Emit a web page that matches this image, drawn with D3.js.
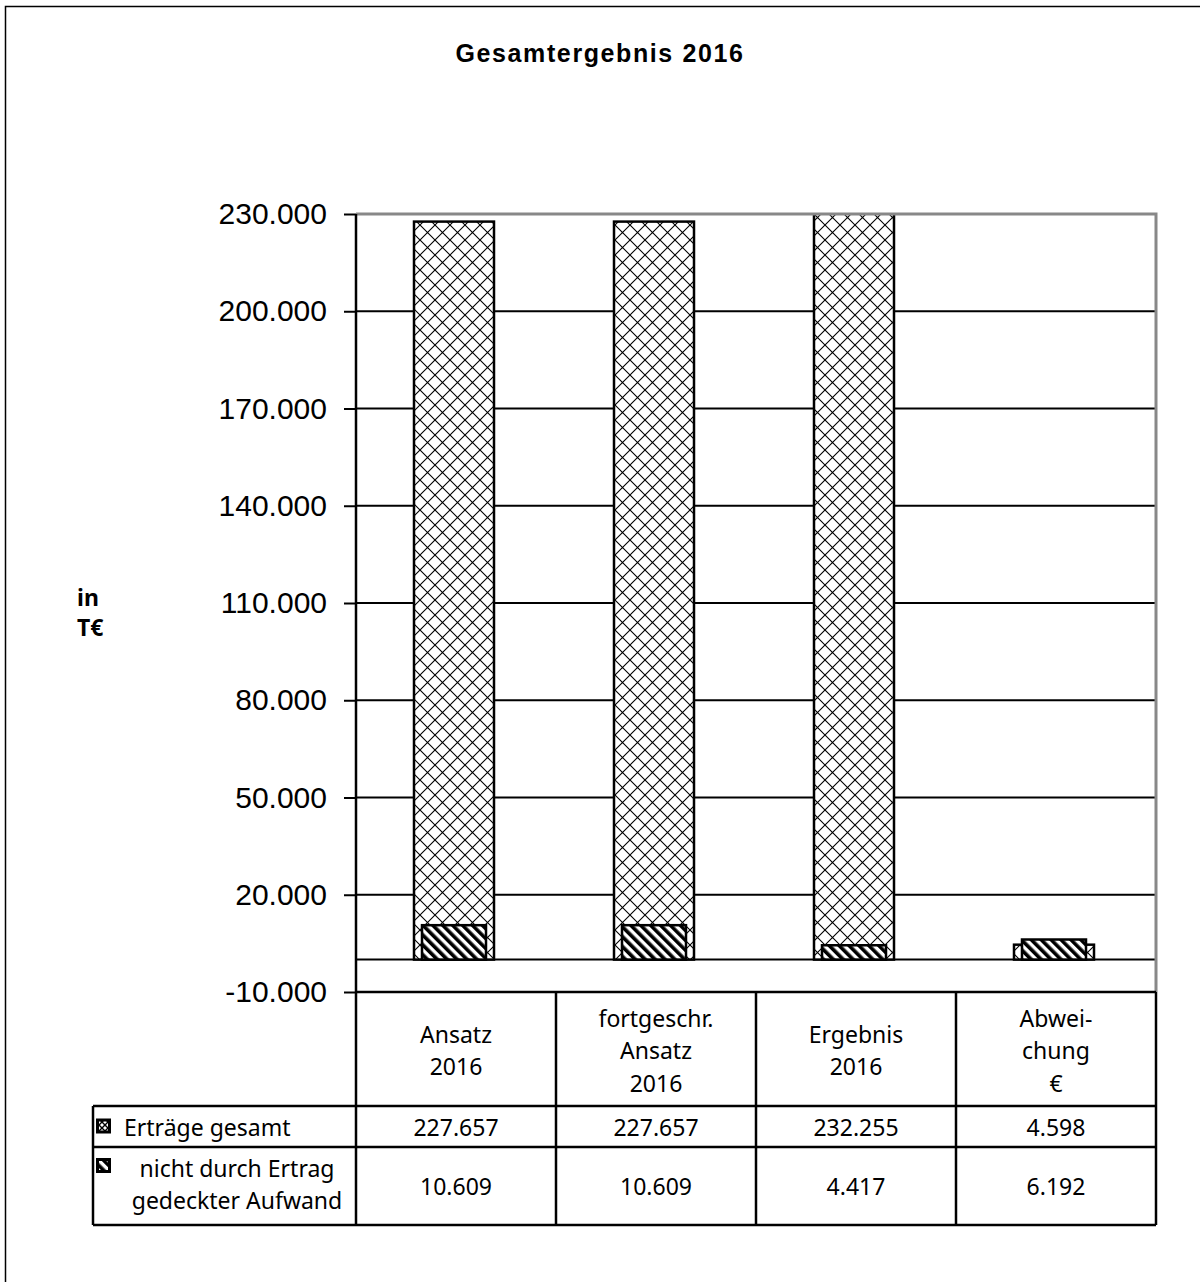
<!DOCTYPE html>
<html>
<head>
<meta charset="utf-8">
<script src="https://cdn.jsdelivr.net/npm/d3@7"></script>
<style>
  body { margin: 0; background: #fff; }
  svg { display: block; }
</style>
</head>
<body>
<div id="chart"></div>
<script>

var categories = [
  ["Ansatz", "2016"],
  ["fortgeschr.", "Ansatz", "2016"],
  ["Ergebnis", "2016"],
  ["Abwei-", "chung", "€"]
];
var ertraege = [227657, 227657, 232255, 4598];
var aufwand = [10609, 10609, 4417, 6192];
var seriesNames = [["Erträge gesamt"], ["nicht durch Ertrag", "gedeckter Aufwand"]];
var yTicks = [-10000, 20000, 50000, 80000, 110000, 140000, 170000, 200000, 230000];

var svgW = 1200;
var svgH = 1282;

// plot area
var plot = { left: 356, right: 1156, top: 214, bottom: 992 };
var table = { left: 93, headBottom: 1106, row1Bottom: 1147, row2Bottom: 1225 };

var de = d3.formatLocale({ decimal: ",", thousands: ".", grouping: [3], currency: ["", "€"], minus: "-" });
var fmt = de.format(",.0f");

var svg = d3.select("#chart")
  .append("svg")
  .attr("width", svgW)
  .attr("height", svgH);

var defs = svg.append("defs");

var tile = 15;
var cross = defs.append("pattern")
  .attr("id", "cross")
  .attr("patternUnits", "userSpaceOnUse")
  .attr("width", tile)
  .attr("height", tile);
cross.append("rect").attr("width", tile).attr("height", tile).attr("fill", "#fff");
cross.append("path")
  .attr("d", `M-1,-1L${tile + 1},${tile + 1}M${tile + 1},-1L-1,${tile + 1}`)
  .attr("stroke", "#000")
  .attr("stroke-width", 1.1);

var hatch = defs.append("pattern")
  .attr("id", "hatch")
  .attr("patternUnits", "userSpaceOnUse")
  .attr("width", 7)
  .attr("height", 7)
  .attr("patternTransform", "rotate(-45)");
hatch.append("rect").attr("width", 7).attr("height", 7).attr("fill", "#fff");
hatch.append("rect").attr("width", 3.6).attr("height", 7).attr("fill", "#000");

// tiny versions for the legend keys
var crossKey = defs.append("pattern")
  .attr("id", "crossKey")
  .attr("patternUnits", "userSpaceOnUse")
  .attr("width", 6)
  .attr("height", 6);
crossKey.append("rect").attr("width", 6).attr("height", 6).attr("fill", "#fff");
crossKey.append("path").attr("d", "M0,0L6,6M6,0L0,6").attr("stroke", "#000").attr("stroke-width", 1.4);

defs.append("clipPath")
  .attr("id", "plotClip")
  .append("rect")
  .attr("x", plot.left)
  .attr("y", plot.top)
  .attr("width", plot.right - plot.left)
  .attr("height", plot.bottom - plot.top);

// outer frame
svg.append("rect")
  .attr("x", 5.5)
  .attr("y", 6.5)
  .attr("width", 1250)
  .attr("height", 1350)
  .attr("fill", "none")
  .attr("stroke", "#000")
  .attr("stroke-width", 1.5);

svg.append("text")
  .attr("x", 600)
  .attr("y", 62)
  .attr("text-anchor", "middle")
  .attr("font-family", "'Liberation Sans', Arial, sans-serif")
  .attr("font-weight", "bold")
  .attr("font-size", 25)
  .attr("letter-spacing", 1.6)
  .text("Gesamtergebnis 2016");

var yScale = d3.scaleLinear()
  .domain([-10000, 230000])
  .range([plot.bottom, plot.top]);

var xWide = d3.scaleBand()
  .domain(d3.range(categories.length))
  .range([plot.left - 2, plot.right - 2])
  .paddingInner(0.6)
  .paddingOuter(0.3);

var xNarrow = d3.scaleBand()
  .domain(d3.range(categories.length))
  .range([plot.left - 2, plot.right - 2])
  .paddingInner(0.68)
  .paddingOuter(0.34);

var xCol = d3.scaleBand()
  .domain(d3.range(categories.length))
  .range([plot.left, plot.right]);

// gridlines
svg.append("g")
  .selectAll("line")
  .data(yTicks.filter(d => d > -10000 && d < 230000).concat([0]))
  .enter()
  .append("line")
  .attr("x1", plot.left)
  .attr("x2", plot.right)
  .attr("y1", d => yScale(d))
  .attr("y2", d => yScale(d))
  .attr("stroke", "#000")
  .attr("stroke-width", 2);

var bars = svg.append("g").attr("clip-path", "url(#plotClip)");

bars.selectAll(".ertrag")
  .data(ertraege)
  .enter()
  .append("rect")
  .attr("class", "ertrag")
  .attr("x", (d, i) => xWide(i))
  .attr("width", xWide.bandwidth())
  .attr("y", d => yScale(d))
  .attr("height", d => yScale(0) - yScale(d))
  .attr("fill", "url(#cross)")
  .attr("stroke", "#000")
  .attr("stroke-width", 2.5);

bars.selectAll(".aufwand")
  .data(aufwand)
  .enter()
  .append("rect")
  .attr("class", "aufwand")
  .attr("x", (d, i) => xNarrow(i))
  .attr("width", xNarrow.bandwidth())
  .attr("y", d => yScale(d))
  .attr("height", d => yScale(0) - yScale(d))
  .attr("fill", "url(#hatch)")
  .attr("stroke", "#000")
  .attr("stroke-width", 2.5);

// plot border top/right in grey
svg.append("path")
  .attr("d", `M${plot.left},${plot.top}H${plot.right}V${plot.bottom}`)
  .attr("fill", "none")
  .attr("stroke", "#888")
  .attr("stroke-width", 3);

// y axis
var leftAxis = d3.axisLeft(yScale)
  .tickValues(yTicks)
  .tickFormat(fmt)
  .tickSize(12)
  .tickPadding(17);

var yAxis = svg.append("g")
  .attr("transform", `translate(${plot.left}, 0)`)
  .call(leftAxis);

yAxis.select(".domain").remove();
yAxis.selectAll(".tick line").attr("stroke", "#000").attr("stroke-width", 2);
yAxis.selectAll(".tick text")
  .attr("font-family", "'Liberation Sans', Arial, sans-serif")
  .attr("font-size", 30)
  .attr("fill", "#000");

svg.append("text")
  .attr("font-family", "'Noto Sans', sans-serif")
  .attr("font-weight", "bold")
  .attr("font-size", 23)
  .selectAll("tspan")
  .data(["in", "T€"])
  .enter()
  .append("tspan")
  .attr("x", 77)
  .attr("y", (d, i) => 606 + i * 30)
  .text(d => d);

// data table
var tbl = svg.append("g")
  .attr("stroke", "#000")
  .attr("stroke-width", 2.5);

tbl.append("line")
  .attr("x1", plot.left).attr("x2", plot.right)
  .attr("y1", plot.bottom).attr("y2", plot.bottom);
[table.headBottom, table.row1Bottom, table.row2Bottom].forEach(y => {
  tbl.append("line")
    .attr("x1", table.left).attr("x2", plot.right)
    .attr("y1", y).attr("y2", y);
});
tbl.append("line")
  .attr("x1", table.left).attr("x2", table.left)
  .attr("y1", table.headBottom).attr("y2", table.row2Bottom);
tbl.append("line")
  .attr("x1", plot.left).attr("x2", plot.left)
  .attr("y1", plot.top).attr("y2", table.row2Bottom);
d3.range(1, categories.length + 1).forEach(i => {
  var x = i < categories.length ? xCol(i) : plot.right;
  tbl.append("line")
    .attr("x1", x).attr("x2", x)
    .attr("y1", plot.bottom).attr("y2", table.row2Bottom);
});

var tableFont = "'Noto Sans', 'Open Sans', sans-serif";
var lineH = 32.5;

function multiLine(g, lines, cx, cy) {
  var t = g.append("text")
    .attr("text-anchor", "middle")
    .attr("dominant-baseline", "central")
    .attr("font-family", tableFont)
    .attr("font-size", 23)
    .attr("fill", "#000");
  lines.forEach((l, k) => {
    t.append("tspan")
      .attr("x", cx)
      .attr("y", cy + (k - (lines.length - 1) / 2) * lineH)
      .text(l);
  });
  return t;
}

var txt = svg.append("g");
categories.forEach((c, i) => {
  var cx = xCol(i) + xCol.bandwidth() / 2;
  multiLine(txt, c, cx, (plot.bottom + table.headBottom) / 2 + 1);
  multiLine(txt, [fmt(ertraege[i])], cx, (table.headBottom + table.row1Bottom) / 2);
  multiLine(txt, [fmt(aufwand[i])], cx, (table.row1Bottom + table.row2Bottom) / 2);
});

// legend keys + series names
var keys = [
  { fill: "url(#crossKey)", y: (table.headBottom + table.row1Bottom) / 2 },
  { fill: "url(#hatch)", y: 1166 }
];
keys.forEach(k => {
  svg.append("rect")
    .attr("x", 97.5)
    .attr("y", k.y - 6.5)
    .attr("width", 12)
    .attr("height", 12)
    .attr("fill", k.fill)
    .attr("stroke", "#000")
    .attr("stroke-width", 3);
});

txt.append("text")
  .attr("x", 124)
  .attr("y", (table.headBottom + table.row1Bottom) / 2)
  .attr("dominant-baseline", "central")
  .attr("font-family", tableFont)
  .attr("font-size", 23)
  .text(seriesNames[0][0]);

multiLine(txt, seriesNames[1], 237, (table.row1Bottom + table.row2Bottom) / 2 - 2);

</script>
</body>
</html>
